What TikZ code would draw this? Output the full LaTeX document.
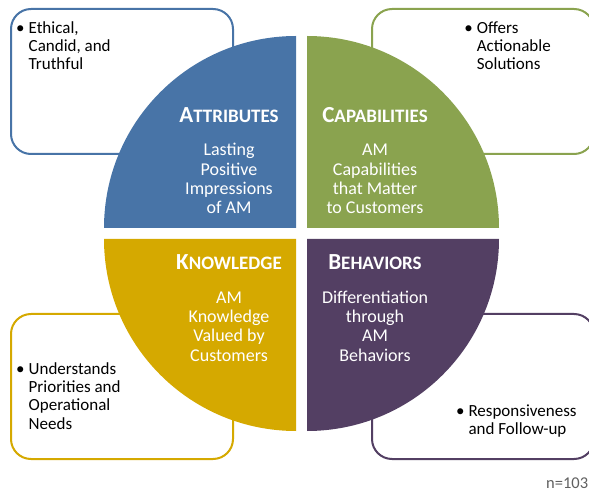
\documentclass[tikz,border=0pt]{standalone}
\usepackage{fontspec}
\setmainfont{Carlito}

\definecolor{attrBlue}{HTML}{4874A7}
\definecolor{capGreen}{HTML}{8AA34F}
\definecolor{knowGold}{HTML}{D5A900}
\definecolor{behPurple}{HTML}{533F63}
\definecolor{noteGray}{HTML}{606060}

% centred and left-aligned stacks whose baseline is that of the first line
\newcommand\cstack[1]{\begin{tabular}[t]{@{}c@{}}#1\end{tabular}}
\newcommand\lstack[1]{\begin{tabular}[t]{@{}l@{}}#1\end{tabular}}
\newcommand\bul{\llap{\textbullet\hspace{4pt}}}
% small-caps style heading: large initial, smaller capitals after it
\newcommand\hd[2]{{\fontsize{23}{26}\selectfont #1}{\fontsize{19}{22}\selectfont #2}}

\tikzset{
  card/.style={draw, line width=2pt, fill=white, rounded corners=20pt,
    minimum width=222pt, minimum height=145pt, inner sep=0pt},
  heading/.style={anchor=base, inner sep=0pt, text=white, font=\bfseries},
  body/.style={anchor=base, inner sep=0pt, text=white,
    font=\fontsize{18}{19.3}\selectfont},
  point/.style={anchor=base west, inner sep=0pt, text=black,
    font=\fontsize{17}{18.2}\selectfont},
}

\begin{document}
\begin{tikzpicture}[x=1pt, y=1pt]
\useasboundingbox (0,0) rectangle (589,493);

% outer cards with bullet points
\node[card, draw=attrBlue, anchor=north west] (attrCard) at (10,485) {};
\node[card, draw=capGreen, anchor=north west] (capCard) at (371,485) {};
\node[card, draw=knowGold, anchor=north west] (knowCard) at (10,180) {};
\node[card, draw=behPurple, anchor=north west] (behCard) at (371,180) {};

% the four quarters of the circle
\fill[attrBlue] (296,265) -- (104,265) arc[start angle=180, end angle=90, radius=192] -- cycle;
\fill[capGreen] (307,265) -- (307,457) arc[start angle=90, end angle=0, radius=192] -- cycle;
\fill[knowGold] (296,254) -- (104,254) arc[start angle=180, end angle=270, radius=192] -- cycle;
\fill[behPurple] (307,254) -- (499,254) arc[start angle=0, end angle=-90, radius=192] -- cycle;

% headings
\node[heading] (attrHead) at (229,370.3) {\hd{A}{TTRIBUTES}};
\node[heading] (capHead) at (375,370.3) {\hd{C}{APABILITIES}};
\node[heading] (knowHead) at (229,223) {\hd{K}{NOWLEDGE}};
\node[heading] (behHead) at (375,223) {\hd{B}{EHAVIORS}};

% descriptions
\node[body] (attrText) at (229,337) {\cstack{Lasting\\Positive\\Impressions\\of AM}};
\node[body] (capText) at (375,337) {\cstack{AM\\Capabilities\\that Matter\\to Customers}};
\node[body] (knowText) at (229,189.7) {\cstack{AM\\Knowledge\\Valued by\\Customers}};
\node[body] (behText) at (375,189.7) {\cstack{Differentiation\\through\\AM\\Behaviors}};

% bullet points
\node[point] (attrPoint) at (28.5,459.7) {\lstack{\bul Ethical,\\Candid, and\\Truthful}};
\node[point] (capPoint) at (476.7,459.7) {\lstack{\bul Offers\\Actionable\\Solutions}};
\node[point] (knowPoint) at (28.5,118.5) {\lstack{\bul Understands\\Priorities and\\Operational\\Needs}};
\node[point] (behPoint) at (468.3,76.3) {\lstack{\bul Responsiveness\\and Follow-up}};

% sample size
\node[anchor=base west, inner sep=0pt, text=noteGray, font=\fontsize{16.5}{19}\selectfont] (sample) at (546,4.5) {n=103};
\end{tikzpicture}
\end{document}
